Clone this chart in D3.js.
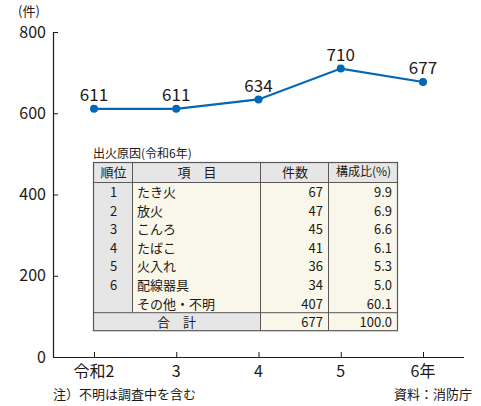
<!DOCTYPE html>
<html><head><meta charset="utf-8">
<script src="https://cdn.jsdelivr.net/npm/d3@7"></script>
<style>body{margin:0;background:#fff}svg{display:block}text{font-family:"Noto Sans CJK JP","Noto Sans",sans-serif;fill:#231815}</style>
</head><body>
<script>
const years = ["令和2", "3", "4", "5", "6年"];
const counts = [611, 611, 634, 710, 677];
const yTicks = [0, 200, 400, 600, 800];
const tableTitle = "出火原因(令和6年)";
const tableHeaders = ["順位", "項　目", "件数", "構成比(%)"];
const ranks = ["1", "2", "3", "4", "5", "6", ""];
const causes = ["たき火", "放火", "こんろ", "たばこ", "火入れ", "配線器具", "その他・不明"];
const causeCounts = [67, 47, 45, 41, 36, 34, 407];
const causeShares = ["9.9", "6.9", "6.6", "6.1", "5.3", "5.0", "60.1"];
const totalLabel = "合　計";
const totalCount = 677;
const totalShare = "100.0";

const W = 481, H = 406;
const svg = d3.select("body").append("svg").attr("width", W).attr("height", H);
const x = d3.scalePoint().domain(years).range([94, 423]);
const y = d3.scaleLinear().domain([0, 800]).range([357, 32]);

// axes
const axisColor = "#231815";
svg.append("line").attr("x1", 53.5).attr("x2", 53.5).attr("y1", y(800)).attr("y2", y(0)+0.5).attr("stroke", axisColor).attr("stroke-width", 1.2);
svg.append("line").attr("x1", 53).attr("x2", 464).attr("y1", y(0)+0.5).attr("y2", y(0)+0.5).attr("stroke", axisColor).attr("stroke-width", 1.2);
yTicks.forEach(t => {
  if (t > 0) svg.append("line").attr("x1", 53).attr("x2", 58).attr("y1", y(t)+0.5).attr("y2", y(t)+0.5).attr("stroke", axisColor).attr("stroke-width", 1);
  svg.append("text").attr("x", 46).attr("y", y(t)).attr("dy", "0.35em").attr("text-anchor", "end").attr("font-size", 16).text(t);
});
svg.append("text").attr("x", 18).attr("y", 16).attr("font-size", 13).text("(件)");
years.forEach(yr => {
  svg.append("line").attr("x1", x(yr)+0.5).attr("x2", x(yr)+0.5).attr("y1", y(0)-5).attr("y2", y(0)).attr("stroke", axisColor).attr("stroke-width", 1);
  svg.append("text").attr("x", x(yr)).attr("y", 377).attr("text-anchor", "middle").attr("font-size", 16).text(yr);
});

// line
const blue = "#0068b7";
svg.append("path").datum(counts)
  .attr("d", d3.line().x((d, i) => x(years[i])).y(d => y(d)))
  .attr("fill", "none").attr("stroke", blue).attr("stroke-width", 2.2);
svg.selectAll("circle.pt").data(counts).join("circle")
  .attr("cx", (d, i) => x(years[i])).attr("cy", d => y(d)).attr("r", 4).attr("fill", blue);
svg.selectAll("text.lbl").data(counts).join("text")
  .attr("x", (d, i) => x(years[i])).attr("y", d => y(d) - 7.5)
  .attr("text-anchor", "middle").attr("font-size", 17).text(d => d);

// table
const colX = [93, 132, 260, 328, 397];
const tTop = 162, headH = 20, rowH = 18.6;
const bodyTop = tTop + headH;
const totalTop = bodyTop + rowH * causes.length;
const tBottom = totalTop + 18;
const gray = "#e6e6e6", cream = "#f9f7ea", border = "#595757";
svg.append("text").attr("x", 93).attr("y", 158).attr("font-size", 12).text(tableTitle);
svg.append("rect").attr("x", colX[0]).attr("y", tTop).attr("width", colX[4]-colX[0]).attr("height", headH).attr("fill", gray);
svg.append("rect").attr("x", colX[0]).attr("y", bodyTop).attr("width", colX[1]-colX[0]).attr("height", totalTop-bodyTop).attr("fill", gray);
svg.append("rect").attr("x", colX[1]).attr("y", bodyTop).attr("width", colX[4]-colX[1]).attr("height", totalTop-bodyTop).attr("fill", cream);
svg.append("rect").attr("x", colX[0]).attr("y", totalTop).attr("width", colX[2]-colX[0]).attr("height", tBottom-totalTop).attr("fill", gray);
svg.append("rect").attr("x", colX[2]).attr("y", totalTop).attr("width", colX[4]-colX[2]).attr("height", tBottom-totalTop).attr("fill", cream);
const bl = (x1, y1, x2, y2) => svg.append("line").attr("x1", x1).attr("y1", y1).attr("x2", x2).attr("y2", y2).attr("stroke", border).attr("stroke-width", 1);
svg.append("rect").attr("x", colX[0]+0.5).attr("y", tTop+0.5).attr("width", colX[4]-colX[0]).attr("height", tBottom-tTop).attr("fill", "none").attr("stroke", border).attr("stroke-width", 1.2);
bl(colX[0], bodyTop+0.5, colX[4], bodyTop+0.5);
bl(colX[0], totalTop+0.5, colX[4], totalTop+0.5);
bl(colX[1]+0.5, tTop, colX[1]+0.5, totalTop);
bl(colX[2]+0.5, tTop, colX[2]+0.5, tBottom);
bl(colX[3]+0.5, tTop, colX[3]+0.5, tBottom);
const fs = 13;
tableHeaders.forEach((h, i) => {
  svg.append("text").attr("x", (colX[i]+colX[i+1])/2 + 1).attr("y", tTop + headH/2).attr("dy", "0.36em")
    .attr("text-anchor", "middle").attr("font-size", i === 3 ? 12 : fs).text(h);
});
causes.forEach((c, i) => {
  const cy = bodyTop + rowH * i + rowH/2 + 1;
  svg.append("text").attr("x", (colX[0]+colX[1])/2 + 1).attr("y", cy).attr("dy", "0.36em").attr("text-anchor", "middle").attr("font-size", fs).text(ranks[i]);
  svg.append("text").attr("x", colX[1]+5).attr("y", cy).attr("dy", "0.36em").attr("font-size", fs).text(c);
  svg.append("text").attr("x", colX[3]-5).attr("y", cy).attr("dy", "0.36em").attr("text-anchor", "end").attr("font-size", fs).text(causeCounts[i]);
  svg.append("text").attr("x", colX[4]-5).attr("y", cy).attr("dy", "0.36em").attr("text-anchor", "end").attr("font-size", fs).text(causeShares[i]);
});
const ty = totalTop + (tBottom-totalTop)/2 + 1;
svg.append("text").attr("x", (colX[0]+colX[2])/2).attr("y", ty).attr("dy", "0.36em").attr("text-anchor", "middle").attr("font-size", fs).text(totalLabel);
svg.append("text").attr("x", colX[3]-5).attr("y", ty).attr("dy", "0.36em").attr("text-anchor", "end").attr("font-size", fs).text(totalCount);
svg.append("text").attr("x", colX[4]-5).attr("y", ty).attr("dy", "0.36em").attr("text-anchor", "end").attr("font-size", fs).text(totalShare);

svg.append("text").attr("x", 53).attr("y", 399).attr("font-size", 13).attr("fill", "#3e3a39").text("注）不明は調査中を含む");
svg.append("text").attr("x", 472).attr("y", 399).attr("text-anchor", "end").attr("font-size", 13).text("資料：消防庁");
</script>
</body></html>
